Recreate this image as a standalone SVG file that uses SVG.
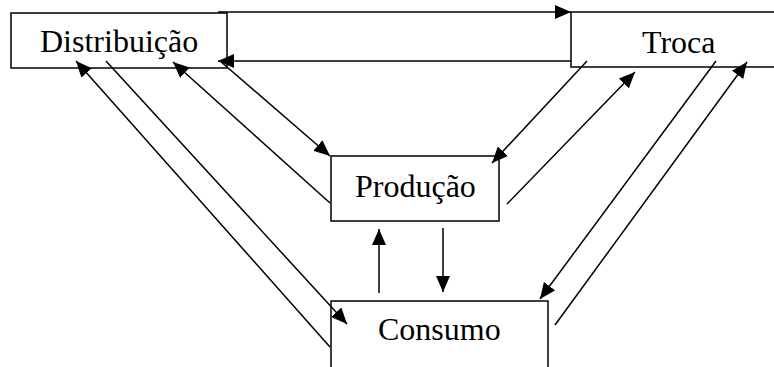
<svg xmlns="http://www.w3.org/2000/svg" width="774" height="367" viewBox="0 0 774 367">
  <style>
    .box { fill: #ffffff; stroke: #000000; stroke-width: 1.5; }
    .label { font-family: "Liberation Serif", "Times New Roman", serif; font-size: 32px; fill: #000000; }
    .link { stroke: #000000; stroke-width: 1.5; fill: none; }
    .arrow { marker-end: url(#head); }
  </style>
  <defs>
    <marker id="head" markerUnits="userSpaceOnUse" markerWidth="16" markerHeight="14" refX="16" refY="7" orient="auto">
      <path d="M0,0 L16,7 L0,14 z" fill="#000000"/>
    </marker>
  </defs>

  <rect width="774" height="367" fill="#ffffff"/>

  <!-- Nodes -->
  <g id="distribuicao">
    <rect class="box" x="11" y="13" width="216" height="55"/>
    <text class="label" x="40" y="52">Distribuição</text>
  </g>
  <g id="troca">
    <rect class="box" x="571" y="12" width="215" height="55"/>
    <text class="label" x="642" y="53">Troca</text>
  </g>
  <g id="producao">
    <rect class="box" x="331" y="156" width="168" height="65"/>
    <text class="label" x="355" y="197">Produção</text>
  </g>
  <g id="consumo">
    <rect class="box" x="331" y="301" width="217" height="80"/>
    <text class="label" x="378" y="340">Consumo</text>
  </g>

  <!-- Connectors -->
  <g id="connectors">
    <!-- Distribuição <-> Troca -->
    <line class="link arrow" x1="218" y1="12" x2="571" y2="12"/>
    <line class="link arrow" x1="571" y1="61" x2="218" y2="61"/>

    <!-- Distribuição <-> Consumo -->
    <line class="link arrow" x1="330" y1="347" x2="76" y2="61"/>
    <line class="link arrow" x1="106" y1="61" x2="347" y2="324"/>

    <!-- Distribuição <-> Produção -->
    <line class="link arrow" x1="330" y1="203" x2="173" y2="62"/>
    <line class="link arrow" x1="220" y1="61" x2="330" y2="156"/>

    <!-- Troca <-> Produção -->
    <line class="link arrow" x1="587" y1="61" x2="492" y2="163"/>
    <line class="link arrow" x1="507" y1="204" x2="635" y2="72"/>

    <!-- Troca <-> Consumo -->
    <line class="link arrow" x1="716" y1="61" x2="540" y2="299"/>
    <line class="link arrow" x1="555" y1="325" x2="747" y2="62"/>

    <!-- Produção <-> Consumo -->
    <line class="link arrow" x1="379" y1="293" x2="379" y2="229"/>
    <line class="link arrow" x1="443" y1="228" x2="443" y2="292"/>
  </g>
</svg>
